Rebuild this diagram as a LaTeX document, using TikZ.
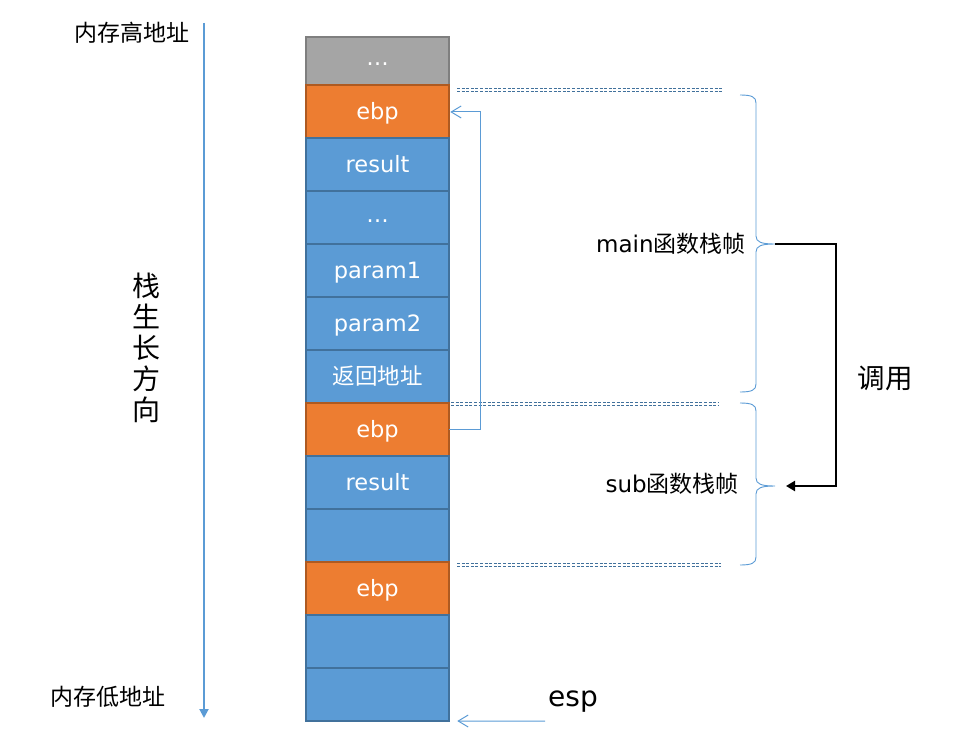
\documentclass[tikz,border=0pt]{standalone}
\usepackage{fontspec}
\setmainfont{DejaVu Sans}
\newfontfamily\cjk{Noto Sans CJK SC}
\usetikzlibrary{arrows.meta,positioning}
\definecolor{grayF}{HTML}{A5A5A5}
\definecolor{grayD}{HTML}{7F7F7F}
\definecolor{ebpF}{HTML}{ED7D31}
\definecolor{ebpD}{HTML}{AE5A21}
\definecolor{cellF}{HTML}{5B9BD5}
\definecolor{cellD}{HTML}{41719C}
\definecolor{lineC}{HTML}{5B9BD5}
\definecolor{sepC}{HTML}{41719C}
\begin{document}
\begin{tikzpicture}[x=1pt,y=-1pt,semithick,
cell/.style={draw=cellD,fill=cellF,line width=2pt,outer sep=0pt,inner sep=0pt,
  minimum width=143.5pt,minimum height=52.96pt,text height=21pt,text depth=5.4pt,
  text=white,font=\fontsize{22.5}{27}\selectfont},
ebp/.style={cell,draw=ebpD,fill=ebpF},
lbl/.style={inner sep=0pt,font=\fontsize{23}{27}\selectfont},
dashline/.style={draw=sepC,line width=1pt,dash pattern=on 3pt off 1.6pt},
frameline/.style={draw=none,postaction={dashline,transform canvas={yshift=1.3pt}},
  postaction={dashline,transform canvas={yshift=-1.3pt}}},
link/.style={draw=lineC,line width=1pt,-{Straight Barb[length=10pt,width=12pt]}},
growline/.style={draw=lineC,line width=2pt,-{Triangle[length=9pt,width=9pt]}},
brc/.style={draw=lineC,line width=0.9pt},
callarrow/.style={line width=2.6pt,-{Triangle[length=9pt,width=10pt]}}]
\useasboundingbox (0,0) rectangle (972,752);
\node[cell,draw=grayD,fill=grayF,minimum height=48.5pt,text depth=12pt] (T) at (377.5,61.25) {\dots};
\node[ebp,below=0pt of T] (E1) {ebp};
\node[cell,below=0pt of E1] (R1) {result};
\node[cell,below=0pt of R1,text depth=12pt] (D1) {\dots};
\node[cell,below=0pt of D1] (P1) {param1};
\node[cell,below=0pt of P1] (P2) {param2};
\node[cell,below=0pt of P2] (H) {\cjk 返回地址};
\node[ebp,below=0pt of H] (E2) {ebp};
\node[cell,below=0pt of E2] (R2) {result};
\node[cell,below=0pt of R2] (U) {};
\node[ebp,below=0pt of U] (E3) {ebp};
\node[cell,below=0pt of E3] (L1) {};
\node[cell,below=0pt of L1] (L2) {};
\coordinate (A1) at (457,90); \coordinate (A2) at (723,90);
\coordinate (B1) at (451,404); \coordinate (B2) at (718,404);
\coordinate (C1) at (457,565); \coordinate (C2) at (721,565);
\coordinate (M) at (775,244); \coordinate (N) at (775,486);
\coordinate (G1) at (204,23); \coordinate (G2) at (204,718);
\coordinate (Q) at (545,721);
\draw[frameline] (A1)--(A2);
\draw[frameline] (B1)--(B2);
\draw[frameline] (C1)--(C2);
\draw[link,shorten >=1pt] (E2.east) -- ++(31,0) |- (E1.east);
\draw[brc] (740,95) .. controls (752,95) and (756,97) .. (756,103) -- (756,236)
  .. controls (756,242) and (761,244) .. (M) .. controls (761,244) and (756,246) .. (756,252)
  -- (756,384) .. controls (756,390) and (752,392) .. (740,392);
\draw[brc] (740,403) .. controls (752,403) and (756,405) .. (756,411) -- (756,478)
  .. controls (756,484) and (761,486) .. (N) .. controls (761,486) and (756,488) .. (756,494)
  -- (756,557) .. controls (756,563) and (752,565) .. (740,565);
\draw[callarrow,shorten >=11pt] (M) -- ++(61,0) |- (N);
\draw[growline] (G1) -- (G2);
\draw[link,shorten >=8pt] (Q) -- (L2.south east);
\node[lbl] (HI) at (132,33) {\cjk 内存高地址};
\node[lbl] (LO) at (108,697) {\cjk 内存低地址};
\node[lbl,font=\fontsize{28}{31}\selectfont\cjk,align=center] (DIR) at (146,348) {栈\\生\\长\\方\\向};
\node[lbl,anchor=east] (MF) at (746,244) {main{\cjk 函数栈帧}};
\node[lbl,anchor=east] (SF) at (739,484) {sub{\cjk 函数栈帧}};
\node[lbl,font=\fontsize{27.5}{32}\selectfont\cjk] (CALL) at (885,378) {调用};
\node[lbl,font=\fontsize{28}{32}\selectfont] (esp) at (573,702) {esp};
\end{tikzpicture}
\end{document}
